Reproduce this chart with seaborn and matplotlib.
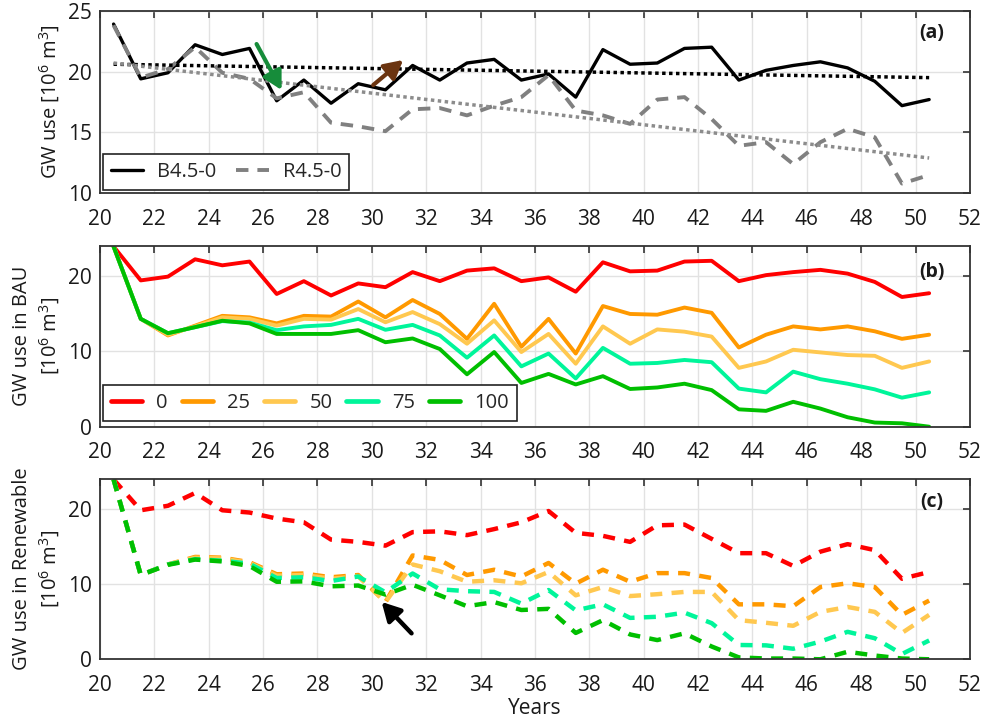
import numpy as np
import pandas as pd
import matplotlib
matplotlib.use("Agg")
import matplotlib.pyplot as plt
import seaborn as sns

# ---- data -------------------------------------------------------------
years = [20.5, 21.5, 22.5, 23.5, 24.5, 25.5, 26.5, 27.5, 28.5, 29.5, 30.5,
         31.5, 32.5, 33.5, 34.5, 35.5, 36.5, 37.5, 38.5, 39.5, 40.5,
         41.5, 42.5, 43.5, 44.5, 45.5, 46.5, 47.5, 48.5, 49.5, 50.5]

# (a) baseline scenarios
b45_0 = [23.9, 19.4, 19.9, 22.2, 21.4, 21.9, 17.6, 19.3, 17.4, 19.0, 18.5,
         20.5, 19.3, 20.7, 21.0, 19.3, 19.8, 17.9, 21.8, 20.6, 20.7,
         21.9, 22.0, 19.3, 20.1, 20.5, 20.8, 20.3, 19.2, 17.2, 17.7]
r45_0 = [23.8, 19.5, 20.2, 22.0, 19.9, 19.4, 17.8, 18.3, 15.8, 15.5, 15.1,
         16.9, 17.0, 16.4, 17.2, 17.9, 19.7, 16.8, 16.4, 15.7, 17.7,
         17.9, 16.1, 13.9, 14.2, 12.4, 14.2, 15.3, 14.6, 10.8, 11.5]
trend_years = [20.5, 50.5]
b45_trend = [20.6, 19.5]
r45_trend = [20.7, 12.9]

shares = ["0", "25", "50", "75", "100"]

# (b) BAU
bau = {
    "0": b45_0,
    "25": [23.9, 14.3, 12.1, 13.4, 14.7, 14.5, 13.7, 14.7, 14.6, 16.6, 14.5,
           16.8, 14.95, 11.65, 16.3, 10.6, 14.3, 9.7, 16.0, 14.95, 14.85,
           15.8, 15.1, 10.5, 12.2, 13.3, 12.9, 13.3, 12.65, 11.65, 12.2],
    "50": [23.9, 14.3, 12.2, 13.3, 14.5, 14.3, 13.4, 14.3, 14.2, 15.6, 13.85,
           15.2, 13.6, 11.0, 14.1, 9.9, 12.3, 8.35, 13.3, 11.0, 12.9,
           12.6, 11.95, 7.8, 8.65, 10.2, 9.85, 9.5, 9.4, 7.8, 8.65],
    "75": [23.9, 14.3, 12.4, 13.2, 14.0, 13.8, 12.8, 13.3, 13.5, 14.3, 12.85,
           13.5, 12.1, 9.15, 12.1, 8.0, 9.7, 6.4, 10.45, 8.35, 8.45,
           8.85, 8.55, 5.05, 4.55, 7.3, 6.3, 5.7, 4.95, 3.85, 4.55],
    "100": [23.9, 14.3, 12.4, 13.2, 14.05, 13.7, 12.3, 12.3, 12.3, 12.8, 11.2,
            11.7, 10.3, 6.95, 9.9, 5.8, 7.0, 5.6, 6.7, 5.0, 5.2,
            5.7, 4.85, 2.3, 2.1, 3.3, 2.4, 1.25, 0.55, 0.45, 0.0],
}

# (c) Renewable
renew = {
    "0": [23.9, 19.8, 20.4, 22.1, 19.8, 19.5, 18.7, 18.2, 15.9, 15.6, 15.1,
          16.9, 17.0, 16.5, 17.3, 18.2, 19.7, 16.8, 16.4, 15.6, 17.8,
          17.9, 16.0, 14.1, 14.1, 12.4, 14.3, 15.3, 14.5, 10.7, 11.6],
    "25": [23.9, 11.2, 12.6, 13.6, 13.5, 12.9, 11.3, 11.4, 10.9, 11.2, 7.6,
           13.8, 13.2, 11.2, 11.9, 11.0, 12.8, 10.05, 11.9, 10.3, 11.45,
           11.45, 10.8, 7.3, 7.3, 7.05, 9.6, 10.1, 9.6, 5.9, 7.8],
    "50": [23.9, 11.2, 12.6, 13.5, 13.4, 12.8, 11.1, 11.2, 10.7, 11.0, 7.6,
           12.6, 11.7, 10.3, 10.5, 10.1, 11.6, 8.5, 9.6, 8.4, 8.65,
           8.95, 8.95, 5.2, 4.85, 4.45, 6.3, 6.95, 6.3, 3.5, 5.9],
    "75": [23.9, 11.2, 12.6, 13.3, 13.1, 12.7, 10.8, 10.9, 10.4, 11.0, 8.9,
           11.4, 9.3, 9.05, 8.95, 7.4, 9.2, 6.5, 7.3, 5.5, 5.65,
           6.2, 4.8, 1.9, 1.85, 1.4, 2.35, 3.65, 2.8, 0.7, 2.5],
    "100": [23.9, 11.2, 12.55, 13.25, 13.0, 12.4, 10.3, 10.35, 9.7, 9.8, 8.6,
            9.9, 8.5, 7.05, 7.6, 6.55, 6.7, 3.5, 5.2, 3.3, 2.55,
            3.45, 1.7, 0.25, 0.1, 0.1, 0.0, 1.0, 0.5, 0.1, 0.0],
}

share_colors = ["#ff0000", "#ff9900", "#ffc850", "#00f59a", "#00bf00"]

# annotation arrows: (tail, tip) in data coordinates
arrow_down = ((25.76, 22.26), (26.68, 18.48))
arrow_up = ((30.05, 18.89), (31.15, 20.95))
arrow_c = ((31.46, 3.45), (30.36, 7.62))

# ---- styling ----------------------------------------------------------
sns.set_style("white")
plt.rcParams["font.family"] = ["Open Sans", "DejaVu Sans"]
plt.rcParams["mathtext.fontset"] = "custom"
plt.rcParams["mathtext.rm"] = "Open Sans"
plt.rcParams["mathtext.it"] = "Open Sans:italic"
plt.rcParams["mathtext.bf"] = "Open Sans:bold"

TXT = "#1a1a1a"
TICK_FS = 15
LABEL_FS = 14.5
LEG_FS = 14.5
PANEL_FS = 14


def long_frame(table):
    rows = []
    for s in shares:
        for yr, v in zip(years, table[s]):
            rows.append({"year": yr, "share": s, "gw": v})
    return pd.DataFrame(rows)


def style_axes(ax, ylim, yticks):
    ax.set_xlim(20, 52)
    ax.set_xticks(range(20, 53, 2))
    ax.set_ylim(*ylim)
    ax.set_yticks(yticks)
    ax.grid(True, color="#e2e2e2", lw=1.0)
    ax.set_axisbelow(True)
    ax.tick_params(direction="in", length=5, width=1.2, top=True, right=True,
                   color="#333333", labelcolor=TXT, labelsize=TICK_FS)
    ax.tick_params(axis="x", pad=11)
    ax.tick_params(axis="y", pad=6)
    for sp in ax.spines.values():
        sp.set_color("#333333")
        sp.set_linewidth(1.3)
    ax.set_xlabel("")


def set_ylab(ax, text):
    ax.set_ylabel(text, fontsize=LABEL_FS, color=TXT, linespacing=1.25)
    ax.yaxis.set_label_coords(-0.044, 0.5)


def legend_style(leg):
    leg.get_frame().set_linewidth(1.2)
    leg.get_frame().set_edgecolor("#222222")


fig = plt.figure(figsize=(9.84, 7.21), dpi=100)
ax_a = fig.add_axes([0.1016, 0.7319, 0.8841, 0.2533])
ax_b = fig.add_axes([0.1016, 0.4082, 0.8841, 0.2510])
ax_c = fig.add_axes([0.1016, 0.0856, 0.8841, 0.2505])

# ---- (a) --------------------------------------------------------------
sns.lineplot(x=years, y=b45_0, ax=ax_a, color="black", lw=2.4,
             label="B4.5-0", zorder=3)
sns.lineplot(x=years, y=r45_0, ax=ax_a, color="#808080", lw=2.8,
             label="R4.5-0", zorder=4)
ax_a.lines[-1].set_dashes((3.2, 2.3))
sns.lineplot(x=trend_years, y=b45_trend, ax=ax_a, color="black", lw=2.5,
             zorder=5)
ax_a.lines[-1].set_dashes((1.0, 1.0))
sns.lineplot(x=trend_years, y=r45_trend, ax=ax_a, color="#8c8c8c", lw=2.5,
             zorder=5)
ax_a.lines[-1].set_dashes((1.0, 1.0))

for (tail, tip), col in ((arrow_down, "#168c3a"), (arrow_up, "#6b3410")):
    ax_a.annotate("", xy=tip, xytext=tail, zorder=6,
                  arrowprops=dict(arrowstyle="-|>,head_length=0.55,head_width=0.3",
                                  color=col, lw=3.0, mutation_scale=20,
                                  shrinkA=0, shrinkB=0))

style_axes(ax_a, (10, 25), [10, 15, 20, 25])
set_ylab(ax_a, "GW use [10$^{6}$ m$^{3}$]")
leg_a = ax_a.legend(loc="lower left", bbox_to_anchor=(0.003, 0.02), ncol=2,
                    frameon=True, fancybox=False, framealpha=1,
                    fontsize=LEG_FS, handlelength=1.6, columnspacing=1.0,
                    borderaxespad=0, borderpad=0.4, handletextpad=0.7)
legend_style(leg_a)
ax_a.text(0.956, 0.878, "(a)", transform=ax_a.transAxes, fontsize=PANEL_FS,
          fontweight="bold", ha="center", va="center", color=TXT)

# ---- (b) --------------------------------------------------------------
df_b = long_frame(bau)
sns.lineplot(data=df_b, x="year", y="gw", hue="share", hue_order=shares,
             palette=share_colors, lw=2.8, ax=ax_b)
style_axes(ax_b, (0, 24), [0, 10, 20])
set_ylab(ax_b, "GW use in BAU\n[10$^{6}$ m$^{3}$]")
handles, labels = ax_b.get_legend_handles_labels()
leg_b = ax_b.legend(handles, labels, loc="lower left",
                    bbox_to_anchor=(0.003, 0.033), ncol=5, frameon=True,
                    fancybox=False, framealpha=1, fontsize=LEG_FS,
                    handlelength=1.55, columnspacing=0.7, borderaxespad=0,
                    borderpad=0.4, handletextpad=0.7)
legend_style(leg_b)
for h in leg_b.get_lines():
    h.set_linewidth(3.4)
ax_b.text(0.956, 0.855, "(b)", transform=ax_b.transAxes, fontsize=PANEL_FS,
          fontweight="bold", ha="center", va="center", color=TXT)

# ---- (c) --------------------------------------------------------------
df_c = long_frame(renew)
sns.lineplot(data=df_c, x="year", y="gw", hue="share", hue_order=shares,
             palette=share_colors, lw=3.2, ax=ax_c, legend=False)
for ln in ax_c.lines:
    ln.set_dashes((2.7, 2.1))
tail, tip = arrow_c
ax_c.annotate("", xy=tip, xytext=tail, zorder=6,
              arrowprops=dict(arrowstyle="-|>,head_length=0.55,head_width=0.3",
                              color="black", lw=3.2, mutation_scale=20,
                              shrinkA=0, shrinkB=0))
style_axes(ax_c, (0, 24), [0, 10, 20])
set_ylab(ax_c, "GW use in Renewable\n[10$^{6}$ m$^{3}$]")
ax_c.set_xlabel("Years", fontsize=LABEL_FS + 0.5, color=TXT, labelpad=2)
ax_c.text(0.956, 0.871, "(c)", transform=ax_c.transAxes, fontsize=PANEL_FS,
          fontweight="bold", ha="center", va="center", color=TXT)

fig.savefig("out.png", dpi=100)
